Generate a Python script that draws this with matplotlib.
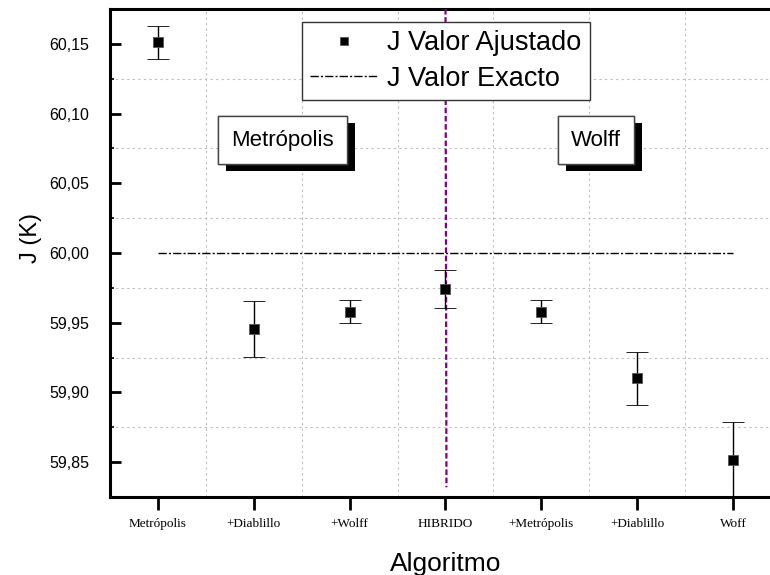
import matplotlib
matplotlib.use("Agg")
import matplotlib.pyplot as plt
import matplotlib.patheffects as pe
from matplotlib.lines import Line2D
from matplotlib.ticker import MultipleLocator, FixedLocator, FuncFormatter

# Ajuste de J por algoritmo
algoritmos = ["Metrópolis", "+Diablillo", "+Wolff", "HIBRIDO",
              "+Metrópolis", "+Diablillo", "Woff"]
j_ajustado = [60.151, 59.9456, 59.958, 59.974, 59.958, 59.910, 59.8516]
j_error = [0.012, 0.020, 0.0085, 0.0135, 0.0085, 0.019, 0.027]
j_exacto = 60.0

plt.rcParams["font.family"] = ["Liberation Sans", "DejaVu Sans"]

fig = plt.figure(figsize=(7.7, 5.75), dpi=100)
ax = fig.add_axes([110 / 770, 1 - 497 / 575, 671 / 770, 488 / 575])

x = list(range(1, len(algoritmos) + 1))

ax.errorbar(x, j_ajustado, yerr=j_error, fmt="s", color="black",
            markersize=6.5, markeredgecolor="#555555", markeredgewidth=0.6,
            ecolor="black", elinewidth=1, capsize=7.7, capthick=1, zorder=4)
ax.plot([x[0], x[-1]], [j_exacto, j_exacto], color="black", lw=1,
        dashes=(6, 1.5, 1.5, 1.5), zorder=3)

# separador del algoritmo hibrido
ax.plot([4, 4.01], [60.175, 59.832], color="#800080", lw=1.6,
        dashes=(2.5, 1.2), zorder=3)

ax.set_xlim(0.5, 7.5)
ax.set_ylim(59.825, 60.175)

ax.xaxis.set_major_locator(FixedLocator(x))
ax.set_xticklabels(algoritmos, family="Liberation Serif", fontsize=9.5)
ax.xaxis.set_minor_locator(FixedLocator([i + 0.5 for i in x[:-1]]))
ax.yaxis.set_major_locator(MultipleLocator(0.05))
ax.yaxis.set_minor_locator(MultipleLocator(0.025))
ax.yaxis.set_major_formatter(FuncFormatter(lambda v, p: f"{v:.2f}".replace(".", ",")))

ax.tick_params(axis="x", which="major", direction="out", length=9, width=2, pad=6)
ax.tick_params(axis="x", which="minor", length=0)
ax.tick_params(axis="y", which="major", direction="in", length=8, width=2,
               pad=15, labelsize=11.5)
ax.tick_params(axis="y", which="minor", direction="in", length=3, width=1.2)

ax.grid(True, which="minor", color="#bdbdbd", lw=0.8, linestyle=(0, (2, 3)))
ax.grid(False, which="major")

for side in ["left", "bottom", "top"]:
    ax.spines[side].set_linewidth(2.2)
ax.spines["right"].set_visible(False)

ax.set_xlabel("Algoritmo", fontsize=19, labelpad=16)
ax.set_ylabel("J (K)", fontsize=17)
ax.yaxis.set_label_coords(-0.101, 0.53)

handles = [
    Line2D([], [], marker="s", color="black", linestyle="None", markersize=5.5,
           markeredgecolor="#555555", markeredgewidth=0.6),
    Line2D([], [], color="black", lw=1, dashes=(6, 1.5, 1.5, 1.5)),
]
leg = ax.legend(handles, ["J Valor Ajustado", "J Valor Exacto"],
                loc="upper left", bbox_to_anchor=(0.286, 0.973), borderaxespad=0,
                fontsize=19.5, frameon=True, fancybox=False, edgecolor="#333333",
                framealpha=1, handlelength=2.5, handletextpad=0.35,
                labelspacing=0.35, borderpad=0.3)
leg.get_frame().set_linewidth(1)

sombra = [pe.withSimplePatchShadow(offset=(5.8, -5), shadow_rgbFace="black",
                                   alpha=1), pe.Normal()]
for xt, texto in [(2.30, "Metrópolis"), (5.57, "Wolff")]:
    ax.text(xt, 60.081, texto, fontsize=16, ha="center", va="center", zorder=5,
            bbox=dict(boxstyle="square,pad=0.6", facecolor="white",
                      edgecolor="#444444", linewidth=1, path_effects=sombra))

fig.savefig("out.png", dpi=100)
